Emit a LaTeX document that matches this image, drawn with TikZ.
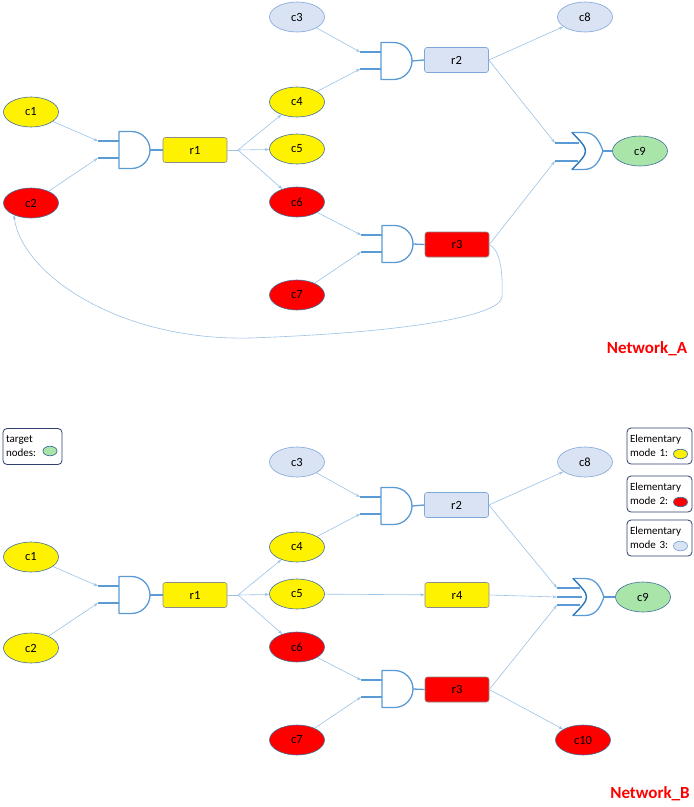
\documentclass[tikz,border=0pt]{standalone}
\usepackage{fontspec}
\setmainfont{Carlito}
\usetikzlibrary{arrows.meta,shapes.geometric,calc}
\definecolor{gatec}{HTML}{5B9BD5}
\definecolor{gatedk}{HTML}{2E75B6}
\definecolor{linec}{HTML}{9DC3E6}
\definecolor{bord}{HTML}{41719C}
\definecolor{lblue}{HTML}{DAE3F3}
\definecolor{lbord}{HTML}{7FA7DA}
\definecolor{tgreen}{HTML}{A9E4A9}
\definecolor{navy}{HTML}{2F3E73}
\definecolor{rbord}{HTML}{8C8C8C}
\tikzset{
 cnode/.style={ellipse, draw=bord, line width=0.6pt, minimum width=55pt, minimum height=30pt, inner sep=0pt, font=\fontsize{12.5}{14}\selectfont},
 rnode/.style={rectangle, rounded corners=2.5pt, draw=rbord, line width=0.6pt, minimum width=64pt, minimum height=25pt, inner sep=0pt, font=\fontsize{12.5}{14}\selectfont},
 yel/.style={fill=yellow},
 redf/.style={fill=red},
 blu/.style={fill=lblue, draw=lbord},
 grn/.style={fill=tgreen},
 conn/.style={draw=linec, line width=0.6pt, -{Stealth[length=4.5pt,width=3pt]}},
 plainconn/.style={draw=linec, line width=0.6pt},
 gate/.style={draw=gatec, line width=1.3pt, fill=white, line join=round},
 lead/.style={draw=gatec, line width=1.3pt},
 legend/.style={draw=navy, line width=0.8pt, rounded corners=4pt, fill=white, align=left, minimum height=36pt, inner xsep=3pt, inner ysep=2pt, font=\fontsize{11}{14}\selectfont},
 legdot/.style={ellipse, draw=bord, line width=0.7pt, minimum width=14pt, minimum height=9.5pt, inner sep=0pt},
 netlabel/.style={text=red, font=\fontsize{17}{20}\selectfont\bfseries},
}
\newcommand\myandgate[3]{%
  \draw[lead] (#2-21,#3-9) -- (#2,#3-9);
  \draw[lead] (#2-21,#3+8) -- (#2,#3+8);
  \draw[gate] (#2,#3-18.5) -- (#2+12.5,#3-18.5) .. controls (#2+22.7,#3-18.5) and (#2+31,#3-10.2) .. (#2+31,#3) .. controls (#2+31,#3+10.2) and (#2+22.7,#3+18.5) .. (#2+12.5,#3+18.5) -- (#2,#3+18.5) -- cycle;
  \coordinate (#1in1) at (#2-21,#3-9);
  \coordinate (#1in2) at (#2-21,#3+8);
  \coordinate (#1out) at (#2+31,#3);
}
\newcommand\myorgate[3]{%
  \draw[gate] (#2,#3-18.5) -- (#2+12,#3-18.5) .. controls (#2+24,#3-18.5) and (#2+28,#3-8) .. (#2+31,#3) .. controls (#2+28,#3+8) and (#2+24,#3+18.5) .. (#2+12,#3+18.5) -- (#2,#3+18.5) .. controls (#2+18,#3) .. (#2,#3-18.5) -- cycle;
  \draw[draw=gatedk, line width=1.1pt] (#2,#3+18.5) .. controls (#2+18,#3) .. (#2,#3-18.5);
  \coordinate (#1out) at (#2+31,#3);
}
\begin{document}
\begin{tikzpicture}[x=1pt,y=-1pt]
\useasboundingbox (0,0) rectangle (694,807);
\fill[white] (0,0) rectangle (694,807);

% ================= Network A =================
\myandgate{gA1}{119}{150}
\myandgate{gA2}{381}{61}
\myandgate{gA3}{382}{244}
\myorgate{oA}{572}{151}
\draw[lead] (555,143) -- (579.3,143);
\draw[lead] (555,161) -- (578.4,161);
\coordinate (oAin1) at (555,143);
\coordinate (oAin2) at (555,161);

\node[cnode,yel] (c1A) at (31,112) {c1};
\node[cnode,redf] (c2A) at (31,203) {c2};
\node[cnode,blu] (c3A) at (297,17) {c3};
\node[cnode,yel] (c4A) at (297,102) {c4};
\node[cnode,yel] (c5A) at (297,149) {c5};
\node[cnode,redf] (c6A) at (297,202) {c6};
\node[cnode,redf] (c7A) at (297,295) {c7};
\node[cnode,blu] (c8A) at (585,17) {c8};
\node[cnode,grn] (c9A) at (640,151) {c9};
\node[rnode,yel] (r1A) at (195,150) {r1};
\node[rnode,blu] (r2A) at (456.5,60) {r2};
\node[rnode,redf] (r3A) at (457,244.5) {r3};
\coordinate (fanA) at (238,150);

\draw[lead] (gA1out) -- (r1A.west);
\draw[lead] (gA2out) -- (r2A.west);
\draw[lead] (gA3out) -- (r3A.west);
\draw[lead] (oAout) -- (c9A.west);

\draw[conn] (c1A) -- (gA1in1);
\draw[conn] (c2A) -- (gA1in2);
\draw[plainconn] (r1A.east) -- (fanA);
\draw[conn] (fanA) -- (c4A);
\draw[conn] (fanA) -- (c5A);
\draw[conn] (fanA) -- (c6A);
\draw[conn] (c3A) -- (gA2in1);
\draw[conn] (c4A) -- (gA2in2);
\draw[conn] (c6A) -- (gA3in1);
\draw[conn] (c7A) -- (gA3in2);
\draw[conn] (r2A.east) -- (c8A);
\draw[conn] (r2A.east) -- (oAin1);
\draw[conn] (r3A.east) -- (oAin2);
\draw[conn] (r3A.east) .. controls (500,250) and (503,270) .. (502,297)
  .. controls (501,314) and (420,332) .. (250,338)
  .. controls (120,341) and (22,275) .. (c2A.215);

\node[netlabel] (labA) at (647,349) {Network\_A};

% ================= Network B =================
\myandgate{gB1}{119}{595}
\myandgate{gB2}{381}{506}
\myandgate{gB3}{382}{689}
\myorgate{oB}{573}{597}
\draw[lead] (557,588) -- (580.3,588);
\draw[lead] (557,597) -- (582,597);
\draw[lead] (557,605) -- (579.6,605);
\coordinate (oBin1) at (557,588);
\coordinate (oBin2) at (557,597);
\coordinate (oBin3) at (557,605);

\node[cnode,yel] (c1B) at (31,557) {c1};
\node[cnode,yel] (c2B) at (31,648) {c2};
\node[cnode,blu] (c3B) at (297,462) {c3};
\node[cnode,yel] (c4B) at (297,547) {c4};
\node[cnode,yel] (c5B) at (297,594) {c5};
\node[cnode,redf] (c6B) at (297,647) {c6};
\node[cnode,redf] (c7B) at (297,740) {c7};
\node[cnode,blu] (c8B) at (585,462) {c8};
\node[cnode,grn] (c9B) at (643,597) {c9};
\node[cnode,redf] (c10B) at (583,740) {c10};
\node[rnode,yel] (r1B) at (195,595) {r1};
\node[rnode,blu] (r2B) at (456.5,505) {r2};
\node[rnode,redf] (r3B) at (457,689.5) {r3};
\node[rnode,yel] (r4B) at (457,595) {r4};
\coordinate (fanB) at (238,595);

\draw[lead] (gB1out) -- (r1B.west);
\draw[lead] (gB2out) -- (r2B.west);
\draw[lead] (gB3out) -- (r3B.west);
\draw[lead] (oBout) -- (c9B.west);

\draw[conn] (c1B) -- (gB1in1);
\draw[conn] (c2B) -- (gB1in2);
\draw[plainconn] (r1B.east) -- (fanB);
\draw[conn] (fanB) -- (c4B);
\draw[conn] (fanB) -- (c5B);
\draw[conn] (fanB) -- (c6B);
\draw[conn] (c3B) -- (gB2in1);
\draw[conn] (c4B) -- (gB2in2);
\draw[conn] (c6B) -- (gB3in1);
\draw[conn] (c7B) -- (gB3in2);
\draw[conn] (c5B) -- (r4B);
\draw[conn] (r2B.east) -- (c8B);
\draw[conn] (r2B.east) -- (oBin1);
\draw[conn] (r4B.east) -- (oBin2);
\draw[conn] (r3B.east) -- (oBin3);
\draw[conn] (r3B.east) -- (c10B);

% legends
\node[legend, text width=53pt] (legT) at (32.5,446.5) {target\\nodes:};
\node[legdot, fill=tgreen] (dotT) at (50,451) {};
\node[legend, text width=59pt] (leg1) at (659.5,446) {Elementary\\mode 1:};
\node[legdot, fill=yellow] (dot1) at (680.5,454) {};
\node[legend, text width=59pt] (leg2) at (659.5,494) {Elementary\\mode 2:};
\node[legdot, fill=red] (dot2) at (680.5,502) {};
\node[legend, text width=59pt] (leg3) at (659.5,538) {Elementary\\mode 3:};
\node[legdot, fill=lblue, draw=lbord] (dot3) at (680.5,546) {};

\node[netlabel] (labB) at (650,794) {Network\_B};
\end{tikzpicture}
\end{document}
